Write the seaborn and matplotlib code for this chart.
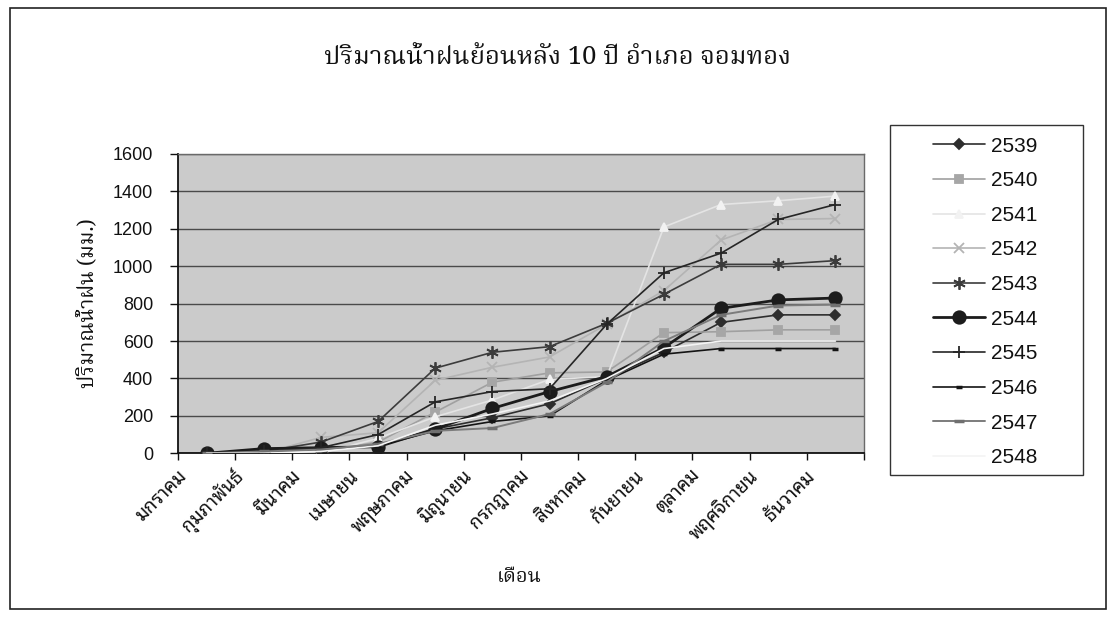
import numpy as np
import pandas as pd
import matplotlib
matplotlib.use("Agg")
import matplotlib.pyplot as plt
import matplotlib.transforms as mtransforms
from matplotlib import font_manager, ft2font
from matplotlib.patches import Rectangle
from matplotlib.lines import Line2D
import seaborn as sns

# ---- data: cumulative monthly rainfall (mm), Chom Thong district ----
months = ["มกราคม", "กุมภาพันธ์", "มีนาคม", "เมษายน", "พฤษภาคม", "มิถุนายน",
          "กรกฎาคม", "สิงหาคม", "กันยายน", "ตุลาคม", "พฤศจิกายน", "ธันวาคม"]
years = ["2539", "2540", "2541", "2542", "2543", "2544", "2545", "2546", "2547", "2548"]

rain_2539 = [0, 20, 30, 40, 130, 190, 265, 400, 540, 700, 740, 740]
rain_2540 = [0, 0, 10, 60, 220, 380, 430, 435, 645, 650, 660, 660]
rain_2541 = [0, 0, 0, 80, 195, 285, 395, 410, 1210, 1330, 1350, 1375]
rain_2542 = [0, 0, 85, 110, 390, 460, 515, 690, 870, 1140, 1250, 1255]
rain_2543 = [0, 10, 60, 170, 455, 540, 570, 695, 850, 1010, 1010, 1030]
rain_2544 = [0, 25, 30, 35, 130, 240, 330, 410, 565, 775, 820, 830]
rain_2545 = [0, 10, 30, 100, 275, 330, 345, 690, 965, 1070, 1250, 1330]
rain_2546 = [0, 10, 20, 40, 120, 170, 200, 390, 530, 560, 560, 560]
rain_2547 = [0, 10, 20, 50, 120, 135, 210, 380, 600, 740, 790, 795]
rain_2548 = [0, 0, 10, 40, 150, 210, 280, 400, 560, 600, 600, 600]

series = [rain_2539, rain_2540, rain_2541, rain_2542, rain_2543,
          rain_2544, rain_2545, rain_2546, rain_2547, rain_2548]

yticks = [0, 200, 400, 600, 800, 1000, 1200, 1400, 1600]

title_text = "ปริมาณน้ำฝนย้อนหลัง 10 ปี อำเภอ จอมทอง"
ylabel_text = "ปริมาณน้ำฝน (มม.)"
xlabel_text = "เดือน"

# ---- fonts with Thai coverage ----
def thai_font_names():
    names = {}
    for f in font_manager.fontManager.ttflist:
        try:
            ft = ft2font.FT2Font(f.fname)
            if ft.get_char_index(0x0E01):
                names.setdefault(f.name, f.fname)
        except Exception:
            pass
    return list(names)

thai = thai_font_names()

def pick(prefs, fallback):
    for p in prefs:
        if p in thai:
            return p
    return fallback

any_thai = thai[0] if thai else "DejaVu Sans"
thai_sans = pick(["Noto Sans Thai Looped", "Noto Looped Thai", "Noto Sans Thai",
                  "Noto Sans Thai UI"], any_thai)
thai_serif = pick(["Noto Serif Thai", "Noto Serif Thai UI"], thai_sans)

num_font = "Liberation Sans"

# ---- long-form table for seaborn ----
rows = []
for yr, vals in zip(years, series):
    for i, v in enumerate(vals):
        rows.append({"month": i, "year": yr, "rain": v})
df = pd.DataFrame(rows)

styles = {
    "2539": dict(color="#2e2e2e", marker="D", ms=5, lw=1.2, mfc="#2e2e2e"),
    "2540": dict(color="#a0a0a0", marker="s", ms=6, lw=1.2, mfc="#a6a6a6"),
    "2541": dict(color="#e4e4e4", marker="^", ms=6, lw=1.2, mfc="#f2f2f2"),
    "2542": dict(color="#b4b4b4", marker="x", ms=7, lw=1.2, mfc="#b4b4b4"),
    "2543": dict(color="#3c3c3c", marker=(6, 2, 0), ms=9, lw=1.2, mfc="#3c3c3c"),
    "2544": dict(color="#1c1c1c", marker="o", ms=9, lw=2.0, mfc="#1c1c1c"),
    "2545": dict(color="#262626", marker="+", ms=8, lw=1.2, mfc="#262626"),
    "2546": dict(color="#141414", marker="_", ms=5, lw=1.2, mfc="#141414"),
    "2547": dict(color="#7c7c7c", marker="_", ms=7, lw=1.4, mfc="#707070"),
    "2548": dict(color="#f4f4f4", marker="", ms=0, lw=1.2, mfc="#f4f4f4"),
}

sns.set_theme(style="white")
plt.rcParams["font.family"] = [num_font, "DejaVu Sans"]

W, H = 1114, 629
fig = plt.figure(figsize=(W / 100, H / 100), dpi=100)
fig.patch.set_facecolor("white")

x0, x1, ytop, ybot = 178, 864, 154, 453.3
ax = fig.add_axes([x0 / W, 1 - ybot / H, (x1 - x0) / W, (ybot - ytop) / H])
ax.set_facecolor("#cbcbcb")

for yr in years:
    st = styles[yr]
    sns.lineplot(data=df[df["year"] == yr], x="month", y="rain", ax=ax,
                 color=st["color"], lw=st["lw"], legend=False, zorder=3)
    line = ax.lines[-1]
    if st["marker"]:
        line.set_marker(st["marker"])
        line.set_markersize(st["ms"])
        line.set_markerfacecolor(st["mfc"])
        line.set_markeredgecolor(st["mfc"])
        line.set_markeredgewidth(2.5 if st["marker"] == "_" else 1.3)

ax.set_xlim(-0.5, len(months) - 0.5)
ax.set_ylim(0, 1600)
ax.set_yticks(yticks)
ax.yaxis.grid(True, color="#4a4a4a", lw=1.0)
ax.xaxis.grid(False)
ax.set_axisbelow(True)
ax.set_xlabel("")
ax.set_ylabel("")

for side in ["left", "bottom"]:
    ax.spines[side].set_color("#111111")
    ax.spines[side].set_linewidth(1.3)
for side in ["top", "right"]:
    ax.spines[side].set_color("#6a6a6a")
    ax.spines[side].set_linewidth(1.0)

ax.tick_params(axis="y", which="major", direction="out", length=6, width=1,
               color="#111111", labelsize=13, pad=12, labelcolor="#111111", left=True)
ax.set_yticklabels([str(v) for v in yticks], fontfamily=num_font)

# category ticks sit on the boundaries, labels at the centres
ax.set_xticks(np.arange(len(months)))
ax.set_xticks(np.arange(len(months) + 1) - 0.5, minor=True)
ax.tick_params(axis="x", which="major", length=0, pad=14.5, bottom=True)
ax.tick_params(axis="x", which="minor", direction="out", length=5, width=1,
               color="#111111", bottom=True)
ax.set_xticklabels(months, rotation=45, ha="right", va="center",
                   rotation_mode="anchor", fontsize=13.5,
                   fontfamily=[thai_sans, "DejaVu Sans"], color="#111111")
shift = mtransforms.ScaledTranslation(-23 / 100, 0, fig.dpi_scale_trans)
for lab in ax.get_xticklabels():
    lab.set_transform(lab.get_transform() + shift)

# titles
fig.text(558 / W, 1 - 57 / H, title_text, ha="center", va="center",
         fontsize=18.5, fontweight="bold", family=[thai_serif, "DejaVu Serif"],
         color="#111111")
fig.text(88 / W, 1 - 303 / H, ylabel_text, ha="center", va="center",
         rotation=90, fontsize=15, fontweight="bold",
         family=[thai_serif, "DejaVu Serif"], color="#111111")
fig.text(519 / W, 1 - 577 / H, xlabel_text, ha="center", va="center",
         fontsize=14.5, family=[thai_serif, "DejaVu Serif"], color="#111111")

# legend: box drawn separately, entries laid out inside it
fig.patches.append(Rectangle((890 / W, 1 - 475 / H), (1083 - 890) / W, (475 - 125) / H,
                             transform=fig.transFigure, facecolor="white",
                             edgecolor="#333333", lw=1.0, zorder=1))
handles = []
for yr in years:
    st = styles[yr]
    handles.append(Line2D([0], [0], color=st["color"], lw=st["lw"],
                          marker=st["marker"] if st["marker"] else None,
                          ms=st["ms"], mfc=st["mfc"], mec=st["mfc"],
                          mew=2.5 if st["marker"] == "_" else 1.3))
leg = fig.legend(handles, years, loc="upper left",
                 bbox_to_anchor=(933 / W, 1 - 136.6 / H),
                 frameon=False, handlelength=2.5, handletextpad=0.29,
                 labelspacing=0.75, borderpad=0, borderaxespad=0,
                 prop={"family": num_font, "size": 15})
for t in leg.get_texts():
    t.set_color("#111111")

# outer chart border
fig.patches.append(Rectangle((10 / W, 1 - 609 / H), (1106 - 10) / W, (609 - 8) / H,
                             transform=fig.transFigure, fill=False,
                             edgecolor="#222222", lw=1.2))

fig.savefig("out.png", dpi=100, facecolor="white")
